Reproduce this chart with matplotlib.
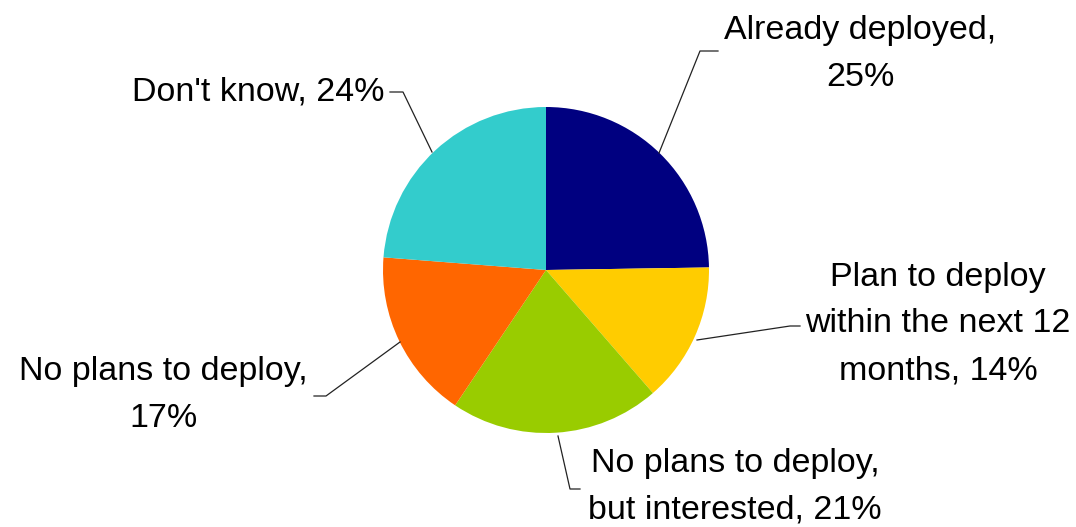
import matplotlib.pyplot as plt

labels = ["Already deployed,\n25%", "Plan to deploy\nwithin the next 12\nmonths, 14%",
          "No plans to deploy,\nbut interested, 21%", "No plans to deploy,\n17%", "Don't know, 24%"]
values = [25, 14, 21, 17, 24]
colors = ["#000080", "#FFCC00", "#99CC00", "#FF6600", "#33CCCC"]

W, H = 1076, 527
fig = plt.figure(figsize=(W / 100, H / 100), dpi=100)
ax = fig.add_axes([0, 0, 1, 1])

cx, cy, r = 546, H - 270, 163
ax.pie(values, colors=colors, startangle=90, counterclock=False,
       center=(cx, cy), radius=r, frame=True,
       wedgeprops=dict(linewidth=0))
ax.set_xlim(0, W)
ax.set_ylim(0, H)
ax.set_aspect("equal")
ax.axis("off")

# label text position (pixel, top-down y), alignment, leader line points
label_pos = [
    (860, 54, "center", [(659, 153), (700, 51), (718, 51)]),
    (938, 324, "center", [(697, 340), (790, 326), (800, 326)]),
    (735, 487, "center", [(558, 436), (570, 489), (580, 489)]),
    (163, 395, "center", [(400, 342), (326, 396), (314, 396)]),
    (385, 92, "right", [(432, 152), (403, 92), (390, 92)]),
]

for lab, (tx, ty, ha, pts) in zip(labels, label_pos):
    ax.text(tx, H - ty, lab, ha=ha, va="center", fontsize=24.5,
            family="Liberation Sans", linespacing=1.65, color="black")
    ax.plot([p[0] for p in pts], [H - p[1] for p in pts], color="#222222", lw=0.9)

fig.savefig("out.png", dpi=100)
